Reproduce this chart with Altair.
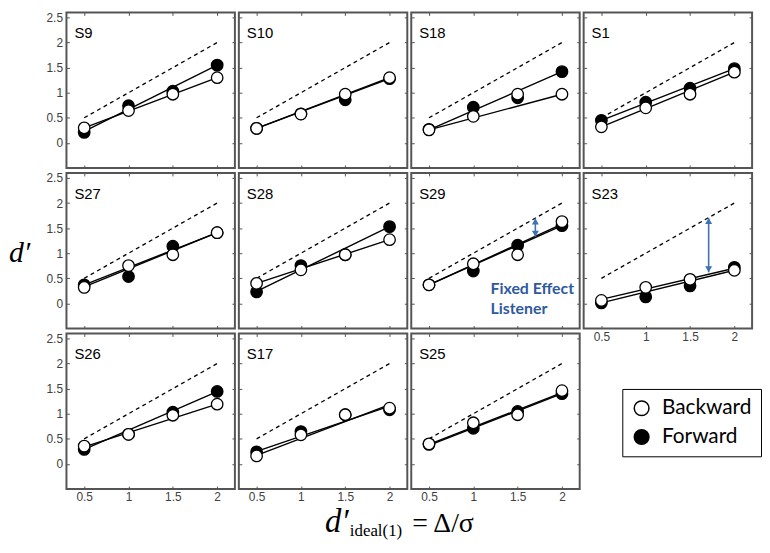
import altair as alt
import pandas as pd

# ---------------- data ----------------
subjects = ["S9", "S10", "S18", "S1", "S27", "S28", "S29", "S23", "S26", "S17", "S25"]
ideal_levels = [0.5, 1.0, 1.5, 2.0]
conditions = ["Backward", "Forward"]

backward_dprime = [
    [0.30, 0.645, 0.97, 1.30],
    [0.29, 0.575, 0.97, 1.30],
    [0.26, 0.53, 0.97, 0.97],
    [0.32, 0.70, 0.97, 1.41],
    [0.32, 0.755, 0.97, 1.41],
    [0.40, 0.67, 0.97, 1.27],
    [0.37, 0.79, 0.97, 1.63],
    [0.06, 0.32, 0.48, 0.66],
    [0.355, 0.59, 0.97, 1.19],
    [0.16, 0.58, 0.98, 1.11],
    [0.40, 0.82, 0.98, 1.46],
]
forward_dprime = [
    [0.21, 0.74, 1.03, 1.55],
    [0.29, 0.58, 0.86, 1.28],
    [0.27, 0.71, 0.90, 1.42],
    [0.45, 0.81, 1.09, 1.48],
    [0.37, 0.535, 1.14, 1.41],
    [0.23, 0.755, 0.97, 1.53],
    [0.37, 0.645, 1.16, 1.55],
    [0.01, 0.13, 0.35, 0.72],
    [0.29, 0.59, 1.03, 1.445],
    [0.24, 0.645, 0.98, 1.08],
    [0.39, 0.71, 1.045, 1.40],
]
fit_span = [0.5, 2.0]
backward_fit = [
    [0.30, 1.30], [0.29, 1.30], [0.26, 0.97], [0.32, 1.41],
    [0.33, 1.41], [0.40, 1.27], [0.37, 1.58], [0.08, 0.70],
    [0.34, 1.19], [0.17, 1.18], [0.39, 1.42],
]
forward_fit = [
    [0.23, 1.55], [0.29, 1.28], [0.26, 1.42], [0.45, 1.48],
    [0.37, 1.41], [0.24, 1.53], [0.37, 1.55], [0.01, 0.66],
    [0.29, 1.44], [0.25, 1.15], [0.37, 1.40],
]
ideal_line = [0.5, 2.0]
x_ticks = [0.5, 1.0, 1.5, 2.0]
y_ticks = [0, 0.5, 1.0, 1.5, 2.0, 2.5]

arrow_subjects = ["S29", "S23"]
arrow_x = [1.70, 1.71]
arrow_lo = [1.33, 0.62]
arrow_hi = [1.69, 1.70]

# panels whose x / y tick labels are shown
x_label_panels = ["S23", "S26", "S17", "S25"]
y_label_panels = ["S9", "S27", "S26"]

# ---------------- styling ----------------
W, H = 170, 157
XDOM = [0.3, 2.2]
YDOM = [-0.5, 2.6]
FRAME = "#555555"
LABEL_COLOR = "#404040"
BLUE_ARROW = "#3F72B5"
BLUE_TEXT = "#2F5A9E"
SANS = "Liberation Sans"
SERIF = "Liberation Serif"

LEGEND = alt.Legend(
    title=None, orient="none", legendX=561, legendY=380,
    labelFont="Lato", labelFontSize=21, labelColor="black",
    symbolType="circle", symbolSize=220, symbolStrokeColor="black",
    symbolStrokeWidth=1.5, strokeColor="black", fillColor="white",
    padding=9, rowPadding=7, labelOffset=10,
)


def axis(orient, show_labels):
    vals = x_ticks if orient in ("bottom", "top") else y_ticks
    return alt.Axis(
        orient=orient, values=vals, format="~g", grid=False, domain=False,
        ticks=True, tickSize=3, offset=-3, tickColor=FRAME, tickWidth=1,
        labels=show_labels, labelFont=SANS, labelFontSize=12,
        labelColor=LABEL_COLOR, labelPadding=4 if orient == "left" else 3,
        title=None,
    )


def panel(i):
    name = subjects[i]
    show_x = name in x_label_panels
    show_y = name in y_label_panels
    rows = []
    for cond, vals in (("Forward", forward_dprime[i]), ("Backward", backward_dprime[i])):
        for xv, yv in zip(ideal_levels, vals):
            rows.append({"x": xv, "y": yv, "cond": cond})
    pts = pd.DataFrame(rows)
    frows = []
    for cond, vals in (("Forward", forward_fit[i]), ("Backward", backward_fit[i])):
        for xv, yv in zip(fit_span, vals):
            frows.append({"x": xv, "y": yv, "cond": cond})
    fits = pd.DataFrame(frows)
    ideal = pd.DataFrame({"x": ideal_line, "y": ideal_line})

    xs = alt.Scale(domain=XDOM, nice=False, zero=False)
    ys = alt.Scale(domain=YDOM, nice=False, zero=False)

    dashed = alt.Chart(ideal).mark_line(
        color="black", strokeWidth=1.3, strokeDash=[4, 3.5]
    ).encode(
        x=alt.X("x:Q", scale=xs, axis=axis("bottom", show_x)),
        y=alt.Y("y:Q", scale=ys, axis=axis("left", show_y)),
    )
    opposite = alt.Chart(ideal).mark_line(opacity=0).encode(
        x=alt.X("x:Q", scale=xs, axis=axis("top", False)),
        y=alt.Y("y:Q", scale=ys, axis=axis("right", False)),
    )
    fit_lines = alt.Chart(fits).mark_line(color="black", strokeWidth=1.4).encode(
        x=alt.X("x:Q", axis=None), y=alt.Y("y:Q", axis=None), detail="cond:N"
    )
    points = alt.Chart(pts).mark_point(
        shape="circle", filled=True, size=135, stroke="black",
        strokeWidth=1.3, opacity=1,
    ).encode(
        x=alt.X("x:Q", axis=None),
        y=alt.Y("y:Q", axis=None),
        fill=alt.Fill("cond:N", scale=alt.Scale(domain=conditions, range=["white", "black"]),
                      legend=LEGEND),
    )
    label = alt.Chart(pd.DataFrame({"t": [name]})).mark_text(
        font=SANS, fontSize=15, color="black", align="left", baseline="alphabetic"
    ).encode(x=alt.value(8), y=alt.value(26), text="t:N")

    layers = [dashed, opposite, fit_lines, points, label]

    if name in arrow_subjects:
        k = arrow_subjects.index(name)
        adf = pd.DataFrame({"x": [arrow_x[k]], "lo": [arrow_lo[k]], "hi": [arrow_hi[k]]})
        layers.append(alt.Chart(adf).mark_rule(color=BLUE_ARROW, strokeWidth=1.6).encode(
            x=alt.X("x:Q", axis=None), y=alt.Y("lo:Q", axis=None), y2="hi:Q"))
        layers.append(alt.Chart(adf).mark_point(
            shape="triangle-up", filled=True, size=50, color=BLUE_ARROW, opacity=1, yOffset=3
        ).encode(x=alt.X("x:Q", axis=None), y=alt.Y("hi:Q", axis=None)))
        layers.append(alt.Chart(adf).mark_point(
            shape="triangle-down", filled=True, size=50, color=BLUE_ARROW, opacity=1, yOffset=-3
        ).encode(x=alt.X("x:Q", axis=None), y=alt.Y("lo:Q", axis=None)))

    if name == "S29":
        layers.append(alt.Chart(pd.DataFrame({"t": ["Fixed Effect\nListener"]})).mark_text(
            font="Lato", fontWeight="bold", fontSize=16, color=BLUE_TEXT, align="left",
            baseline="alphabetic", lineBreak="\n", lineHeight=20,
        ).encode(x=alt.value(80), y=alt.value(122), text="t:N"))

    if name == "S27":
        layers.append(alt.Chart(pd.DataFrame({"t": ["d\u2032"]})).mark_text(
            font=SERIF, fontStyle="italic", fontSize=30, color="black", align="left",
            baseline="alphabetic",
        ).encode(x=alt.value(-58), y=alt.value(90), text="t:N"))

    if name == "S17":
        layers.append(alt.Chart(pd.DataFrame({"t": ["d\u2032"]})).mark_text(
            font=SERIF, fontStyle="italic", fontSize=33, color="black", align="left",
            baseline="alphabetic",
        ).encode(x=alt.value(87), y=alt.value(200), text="t:N"))
        layers.append(alt.Chart(pd.DataFrame({"t": ["ideal(1)"]})).mark_text(
            font=SERIF, fontSize=17, color="black", align="left", baseline="alphabetic",
        ).encode(x=alt.value(112), y=alt.value(204), text="t:N"))
        layers.append(alt.Chart(pd.DataFrame({"t": ["= \u0394/\u03c3"]})).mark_text(
            font=SERIF, fontSize=28, color="black", align="left", baseline="alphabetic",
        ).encode(x=alt.value(175), y=alt.value(200), text="t:N"))

    return alt.layer(*layers).resolve_axis(
        x="independent", y="independent"
    ).properties(width=W, height=H)


panels = [panel(i) for i in range(len(subjects))]

chart = alt.concat(
    *panels, columns=4, spacing={"row": 5, "column": 4}, bounds="flush"
).properties(padding=0).configure_view(stroke=FRAME, strokeWidth=2)

chart.save("out.html", embed_options={"renderer": "svg", "actions": False})
